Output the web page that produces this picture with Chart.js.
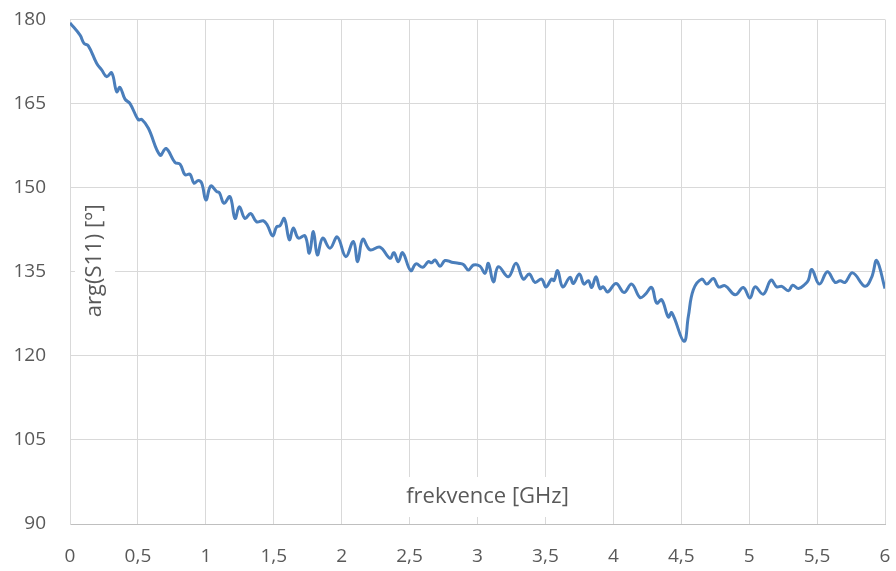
<!DOCTYPE html>
<html>
<head>
<meta charset="utf-8">
<script src="https://cdn.jsdelivr.net/npm/chart.js@4"></script>
<style>
  html, body { margin: 0; padding: 0; background: #fff; }
  #wrap { width: 896px; height: 571px; }
</style>
</head>
<body>
<div id="wrap"><canvas id="chart"></canvas></div>
<script>
const freq = [
  0.0, 0.074, 0.103, 0.135, 0.196, 0.233, 0.27, 0.307, 0.344, 0.368,
  0.405, 0.442, 0.503, 0.528, 0.577, 0.663, 0.707, 0.773, 0.81, 0.847,
  0.883, 0.913, 0.945, 0.97, 1.001, 1.036, 1.08, 1.1, 1.134, 1.178,
  1.215, 1.247, 1.288, 1.33, 1.374, 1.423, 1.453, 1.492, 1.521, 1.546,
  1.578, 1.615, 1.644, 1.681, 1.73, 1.762, 1.792, 1.821, 1.86, 1.914,
  1.968, 2.03, 2.086, 2.118, 2.155, 2.209, 2.282, 2.356, 2.385, 2.417,
  2.449, 2.508, 2.547, 2.597, 2.638, 2.663, 2.687, 2.724, 2.761, 2.81,
  2.859, 2.896, 2.933, 2.97, 3.018, 3.055, 3.08, 3.117, 3.153, 3.227,
  3.284, 3.337, 3.381, 3.423, 3.472, 3.504, 3.546, 3.563, 3.59, 3.627,
  3.681, 3.705, 3.75, 3.784, 3.816, 3.841, 3.872, 3.902, 3.926, 3.958,
  4.02, 4.079, 4.135, 4.196, 4.233, 4.282, 4.319, 4.356, 4.405, 4.43,
  4.52, 4.552, 4.589, 4.651, 4.688, 4.737, 4.774, 4.823, 4.897, 4.957,
  5.006, 5.043, 5.104, 5.161, 5.203, 5.24, 5.289, 5.32, 5.363, 5.412,
  5.436, 5.461, 5.517, 5.576, 5.633, 5.67, 5.706, 5.762, 5.853, 5.903,
  5.939, 6.0
]
const phase = [
  179.4, 177.2, 175.75, 175.3, 172.2, 171, 169.8, 170.5, 167.1, 167.9,
  165.8, 165, 162.1, 162.2, 160.6, 155.8, 157, 154.5, 154.2, 152.3,
  152.4, 150.8, 151.3, 150.8, 147.8, 150.3, 149.3, 149.1, 147.2, 148.4,
  144.5, 146.6, 144.5, 145.4, 143.9, 144.1, 143.3, 141.4, 143, 143.2,
  144.5, 140.7, 142.8, 141, 141.4, 138.3, 142.2, 138, 141, 139.2,
  141.2, 137.7, 140.4, 136.8, 140.8, 138.9, 139.4, 137.4, 138.4, 136.8,
  138.4, 135.2, 136.4, 135.8, 136.8, 136.6, 137.1, 136, 137, 136.7,
  136.5, 136.3, 135.3, 136.2, 136, 134.7, 136.5, 133.2, 135.9, 134.1,
  136.5, 133.7, 134.6, 133.1, 133.7, 132.3, 133.7, 133.4, 135.2, 132.3,
  134, 132.9, 134.6, 132.8, 133.4, 132.2, 134.1, 132, 132.3, 131.4,
  132.9, 131.3, 132.8, 130.4, 130.9, 132.2, 129.4, 130, 126.9, 127.7,
  122.6, 127, 131.8, 133.7, 132.8, 133.8, 132.3, 132.5, 130.9, 132.2,
  130.3, 132.3, 131, 133.5, 132.3, 132.4, 131.6, 132.6, 132, 132.8,
  133.5, 135.4, 132.8, 135, 133.1, 133.4, 133.1, 134.8, 132.4, 134.1,
  137, 132
]
const xTitle = 'frekvence [GHz]'
const yTitle = 'arg(S11) [°]'

const textColor = '#595959'
const gridColor = '#d9d9d9'
const fontFamily = '"Open Sans", "Liberation Sans", sans-serif'

const points = freq.map((f, i) => ({ x: f, y: phase[i] }))

// axis titles sit inside the plot area on a white box, like Excel does
const innerTitles = {
  id: 'innerTitles',
  afterDraw(chart) {
    const { ctx, chartArea } = chart
    ctx.save()
    ctx.font = `22px ${fontFamily}`
    ctx.textAlign = 'center'
    ctx.textBaseline = 'middle'

    // x title
    const xw = ctx.measureText(xTitle).width
    const xcx = (chartArea.left + chartArea.right) / 2 + 10
    const xcy = chartArea.bottom - 27
    ctx.fillStyle = '#fff'
    ctx.fillRect(xcx - xw / 2 - 4, xcy - 20, xw + 8, 40)
    ctx.fillStyle = textColor
    ctx.fillText(xTitle, xcx, xcy)

    // y title
    const yw = ctx.measureText(yTitle).width
    const ycx = chartArea.left + 25
    const ycy = (chartArea.top + chartArea.bottom) / 2 - 11
    ctx.translate(ycx, ycy)
    ctx.rotate(-Math.PI / 2)
    ctx.fillStyle = '#fff'
    ctx.fillRect(-yw / 2 - 4, -20, yw + 8, 40)
    ctx.fillStyle = textColor
    ctx.fillText(yTitle, 0, 0)
    ctx.restore()
  }
}

new Chart(document.getElementById('chart'), {
  type: 'line',
  data: {
    datasets: [{
      data: points,
      borderColor: '#4a7ebb',
      borderWidth: 3,
      pointRadius: 0,
      tension: 0.4,
      fill: false
    }]
  },
  options: {
    responsive: true,
    maintainAspectRatio: false,
    animation: false,
    layout: { padding: { top: 19.5, right: 11, left: 0, bottom: 0 } },
    plugins: {
      legend: { display: false },
      tooltip: { enabled: false }
    },
    scales: {
      x: {
        type: 'linear',
        min: 0,
        max: 6,
        ticks: {
          stepSize: 0.5,
          color: textColor,
          font: { family: fontFamily, size: 19 },
          padding: 21,
          maxRotation: 0,
          callback: v => String(v).replace('.', ',')
        },
        grid: { color: gridColor, lineWidth: 1, drawTicks: false },
        border: { color: '#bfbfbf', width: 1 },
        afterFit: scale => {
          scale.height = 47
          scale.paddingLeft = 0
          scale.paddingRight = 0
        }
      },
      y: {
        min: 90,
        max: 180,
        ticks: {
          stepSize: 15,
          color: textColor,
          font: { family: fontFamily, size: 19 },
          padding: 24
        },
        grid: { color: gridColor, lineWidth: 1, drawTicks: false },
        border: { color: gridColor, width: 1 },
        afterFit: scale => {
          scale.width = 70
          scale.paddingTop = 0
          scale.paddingBottom = 0
        }
      }
    }
  },
  plugins: [innerTitles]
})
</script>
</body>
</html>
